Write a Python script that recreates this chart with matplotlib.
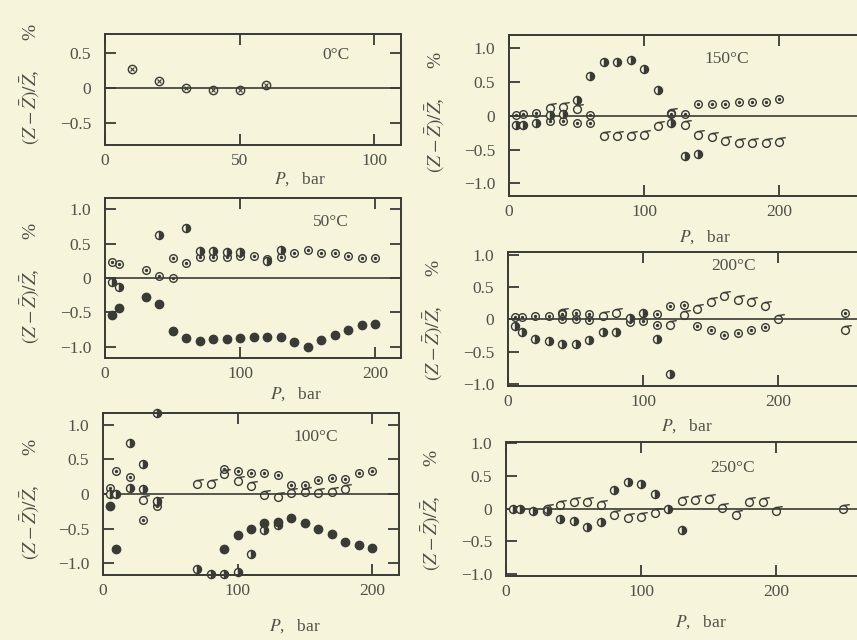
import matplotlib
matplotlib.use("Agg")
import matplotlib.pyplot as plt
from matplotlib.path import Path
import numpy as np

plt.rcParams["font.family"] = ["Liberation Serif", "DejaVu Serif"]
plt.rcParams["mathtext.fontset"] = "stix"

BG = "#f6f5dc"
INK = "#3a3a36"
TXT = "#505048"

# ---- data: P (bar) vs (Z - Zbar)/Zbar (%) ----
# 0 C
t0_cross_p = [10, 20, 30, 40, 50, 60]
t0_cross_z = [0.27, 0.10, 0.0, -0.02, -0.02, 0.05]

# 50 C
t50_dot_p = [5, 10, 30, 40, 50, 50, 60, 70, 80, 90, 100, 110, 120, 130, 140, 150, 160, 170, 180, 190, 200]
t50_dot_z = [0.23, 0.21, 0.11, 0.03, 0.0, 0.29, 0.22, 0.30, 0.30, 0.30, 0.32, 0.32, 0.27, 0.30, 0.36, 0.41,
             0.36, 0.36, 0.32, 0.29, 0.29]
t50_half_p = [5, 10, 40, 60, 70, 80, 90, 100, 120, 130]
t50_half_z = [-0.06, -0.13, 0.62, 0.72, 0.39, 0.39, 0.38, 0.38, 0.25, 0.41]
t50_full_p = [5, 10, 30, 40, 50, 60, 70, 80, 90, 100, 110, 120, 130, 140, 150, 160, 170, 180, 190, 200]
t50_full_z = [-0.53, -0.43, -0.28, -0.38, -0.77, -0.87, -0.92, -0.89, -0.89, -0.87, -0.85, -0.85, -0.85,
              -0.93, -1.0, -0.90, -0.83, -0.76, -0.68, -0.66]

# 100 C
t100_dot_p = [5, 10, 20, 30, 40, 90, 100, 110, 120, 130, 140, 150, 160, 170, 180, 190, 200]
t100_dot_z = [0.08, 0.33, 0.24, -0.37, -0.18, 0.36, 0.33, 0.31, 0.30, 0.28, 0.13, 0.13, 0.20, 0.23, 0.21,
              0.30, 0.33]
t100_sig_p = [30, 40, 70, 80, 90, 100, 110, 120, 130, 140, 150, 160, 170, 180]
t100_sig_z = [-0.09, -0.12, 0.14, 0.15, 0.29, 0.19, 0.12, -0.01, -0.04, 0.02, 0.03, 0.02, 0.03, 0.07]
t100_half_p = [5, 10, 20, 20, 30, 30, 40, 40, 70, 80, 90, 100, 110, 120, 130]
t100_half_z = [0.0, 0.0, 0.73, 0.08, 0.44, 0.07, 1.17, -0.10, -1.08, -1.16, -1.16, -1.13, -0.87, -0.52, -0.45]
t100_full_p = [5, 10, 90, 100, 110, 120, 130, 140, 150, 160, 170, 180, 190, 200]
t100_full_z = [-0.18, -0.79, -0.79, -0.59, -0.51, -0.42, -0.40, -0.35, -0.42, -0.50, -0.58, -0.70, -0.74, -0.78]

# 150 C
t150_dot_p = [5, 10, 20, 30, 40, 50, 60, 60, 120, 130, 140, 150, 160, 170, 180, 190, 200]
t150_dot_z = [0.01, 0.03, 0.04, -0.07, -0.08, -0.10, -0.11, 0.01, 0.03, 0.03, 0.18, 0.17, 0.18, 0.20, 0.21,
              0.21, 0.25]
t150_sig_p = [30, 40, 50, 70, 80, 90, 100, 110, 120, 130, 140, 150, 160, 170, 180, 190, 200]
t150_sig_z = [0.12, 0.13, 0.10, -0.30, -0.30, -0.30, -0.28, -0.15, 0.04, -0.13, -0.29, -0.31, -0.37, -0.40,
              -0.40, -0.40, -0.39]
t150_half_p = [5, 10, 20, 30, 40, 50, 60, 70, 80, 90, 100, 110, 120, 130, 140]
t150_half_z = [-0.13, -0.13, -0.11, 0.01, 0.02, 0.23, 0.59, 0.80, 0.80, 0.83, 0.69, 0.39, -0.10, -0.60, -0.56]

# 200 C
t200_dot_p = [5, 10, 20, 30, 40, 40, 50, 50, 60, 60, 90, 100, 110, 110, 120, 130, 140, 150, 160, 170, 180,
              190, 250]
t200_dot_z = [0.04, 0.04, 0.05, 0.05, 0.08, 0.0, 0.09, 0.0, 0.08, -0.01, -0.04, -0.03, 0.08, -0.09, 0.21,
              0.22, -0.10, -0.16, -0.24, -0.21, -0.17, -0.12, 0.10]
t200_sig_p = [40, 70, 80, 120, 130, 140, 150, 160, 170, 180, 190, 200, 250]
t200_sig_z = [0.10, 0.05, 0.09, -0.09, 0.07, 0.16, 0.27, 0.36, 0.30, 0.26, 0.21, 0.0, -0.17]
t200_half_p = [5, 10, 20, 30, 40, 50, 60, 70, 80, 90, 100, 110, 120]
t200_half_z = [-0.11, -0.19, -0.30, -0.33, -0.38, -0.38, -0.32, -0.19, -0.19, 0.02, 0.10, -0.30, -0.84]

# 250 C
t250_half_p = [5, 10, 20, 30, 40, 50, 60, 70, 80, 90, 100, 110, 120, 130]
t250_half_z = [0.0, -0.01, -0.03, -0.04, -0.16, -0.19, -0.28, -0.21, 0.28, 0.41, 0.38, 0.23, 0.0, -0.33]
t250_sig_p = [30, 40, 50, 60, 70, 80, 90, 100, 110, 130, 140, 150, 160, 170, 180, 190, 200, 250]
t250_sig_z = [-0.01, 0.06, 0.10, 0.10, 0.06, -0.09, -0.14, -0.13, -0.07, 0.11, 0.14, 0.15, 0.01, -0.09,
              0.10, 0.10, -0.04, 0.0]

YLABEL = r"$(Z-\bar{Z})/\bar{Z}$," + "      %"
XLABEL = r"$P$," + "   bar"

# sigma-like symbol: open circle with a short stroke off the top
_circ = Path.unit_circle()
SIGMA = Path(np.vstack([_circ.vertices, [[-0.2, 1.0], [1.6, 1.25]]]),
             np.concatenate([_circ.codes, [Path.MOVETO, Path.LINETO]]))


def pts(ax, p, z, kind):
    if kind == "dot":
        ax.plot(p, z, "o", ms=5.5, mfc="none", mec=INK, mew=1.0, clip_on=False)
        ax.plot(p, z, "o", ms=1.4, color=INK, clip_on=False)
    elif kind == "cross":
        ax.plot(p, z, "o", ms=6, mfc="none", mec=INK, mew=1.0, clip_on=False)
        ax.plot(p, z, "x", ms=3.5, color=INK, mew=0.8, clip_on=False)
    elif kind == "sigma":
        ax.plot(p, z, ls="none", marker=SIGMA, ms=9, mfc="none", mec=INK, mew=1.0, clip_on=False)
    elif kind == "half":
        ax.plot(p, z, "o", ms=5.8, fillstyle="right", mfc=INK, mfcalt=BG, mec=INK, mew=1.0, clip_on=False)
    elif kind == "full":
        ax.plot(p, z, "o", ms=6, color=INK, clip_on=False)


def frame(ax, xlim, xt, ylim, yt, temp, tpos, xlab, ylab):
    ax.set_facecolor(BG)
    ax.set_xlim(*xlim)
    ax.set_ylim(*ylim)
    ax.set_xticks(xt)
    ax.set_xticklabels([str(v) for v in xt])
    ax.set_yticks(yt)
    ax.set_yticklabels(["0" if v == 0 else f"{v:.1f}".replace("-", "\u2212") for v in yt])
    ax.tick_params(direction="in", length=8, width=1.3, top=True, right=True, color=INK,
                   labelsize=12.5, labelcolor=TXT)
    ax.tick_params(axis="y", pad=10)
    ax.tick_params(axis="x", pad=6)
    for s in ax.spines.values():
        s.set_linewidth(1.4)
        s.set_color(INK)
    ax.axhline(0, color=INK, lw=1.2, zorder=1)
    ax.text(tpos[0], tpos[1], temp, fontsize=12.5, color=TXT, ha="center", va="center")
    ax.set_xlabel(XLABEL, fontsize=12.5, color=TXT)
    ax.xaxis.set_label_coords(*xlab)
    ax.set_ylabel(YLABEL, fontsize=14, color=TXT)
    ax.yaxis.set_label_coords(*ylab)


fig = plt.figure(figsize=(8.57, 6.4), dpi=100)
fig.patch.set_facecolor(BG)

W_L = 296 / 857
W_R = 364.5 / 857

# left column
ax = fig.add_axes([105 / 857, 1 - 145 / 640, W_L, 111 / 640])
pts(ax, t0_cross_p, t0_cross_z, "cross")
frame(ax, (0, 110), [0, 50, 100], (-0.81, 0.77), [-0.5, 0, 0.5], "0°C", (86, 0.47),
      (0.66, -0.23), (-0.213, 0.55))

ax = fig.add_axes([105 / 857, 1 - 358 / 640, W_L, 160 / 640])
pts(ax, t50_dot_p, t50_dot_z, "dot")
pts(ax, t50_half_p, t50_half_z, "half")
pts(ax, t50_full_p, t50_full_z, "full")
frame(ax, (0, 219), [0, 100, 200], (-1.16, 1.16), [-1.0, -0.5, 0, 0.5, 1.0], "50°C", (167, 0.81),
      (0.645, -0.17), (-0.213, 0.47))

ax = fig.add_axes([103 / 857, 1 - 575 / 640, W_L, 162 / 640])
pts(ax, t100_dot_p, t100_dot_z, "dot")
pts(ax, t100_sig_p, t100_sig_z, "sigma")
pts(ax, t100_half_p, t100_half_z, "half")
pts(ax, t100_full_p, t100_full_z, "full")
frame(ax, (0, 220), [0, 100, 200], (-1.17, 1.17), [-1.0, -0.5, 0, 0.5, 1.0], "100°C", (158, 0.83),
      (0.65, -0.26), (-0.206, 0.47))

# right column (runs off the right edge of the page, as in the scan)
ax = fig.add_axes([509 / 857, 1 - 196 / 640, W_R, 161 / 640])
pts(ax, t150_dot_p, t150_dot_z, "dot")
pts(ax, t150_sig_p, t150_sig_z, "sigma")
pts(ax, t150_half_p, t150_half_z, "half")
frame(ax, (0, 270), [0, 100, 200], (-1.19, 1.2), [-1.0, -0.5, 0, 0.5, 1.0], "150°C", (161, 0.84),
      (0.537, -0.2), (-0.17, 0.52))

ax = fig.add_axes([508 / 857, 1 - 386 / 640, W_R, 134 / 640])
pts(ax, t200_dot_p, t200_dot_z, "dot")
pts(ax, t200_sig_p, t200_sig_z, "sigma")
pts(ax, t200_half_p, t200_half_z, "half")
frame(ax, (0, 270), [0, 100, 200], (-1.03, 1.04), [-1.0, -0.5, 0, 0.5, 1.0], "200°C", (167, 0.82),
      (0.49, -0.23), (-0.173, 0.49))

ax = fig.add_axes([506 / 857, 1 - 576 / 640, W_R, 134 / 640])
pts(ax, t250_half_p, t250_half_z, "half")
pts(ax, t250_sig_p, t250_sig_z, "sigma")
frame(ax, (0, 270), [0, 100, 200], (-1.03, 1.02), [-1.0, -0.5, 0, 0.5, 1.0], "250°C", (168, 0.62),
      (0.535, -0.28), (-0.173, 0.49))

fig.savefig("out.png", dpi=100, facecolor=BG)
